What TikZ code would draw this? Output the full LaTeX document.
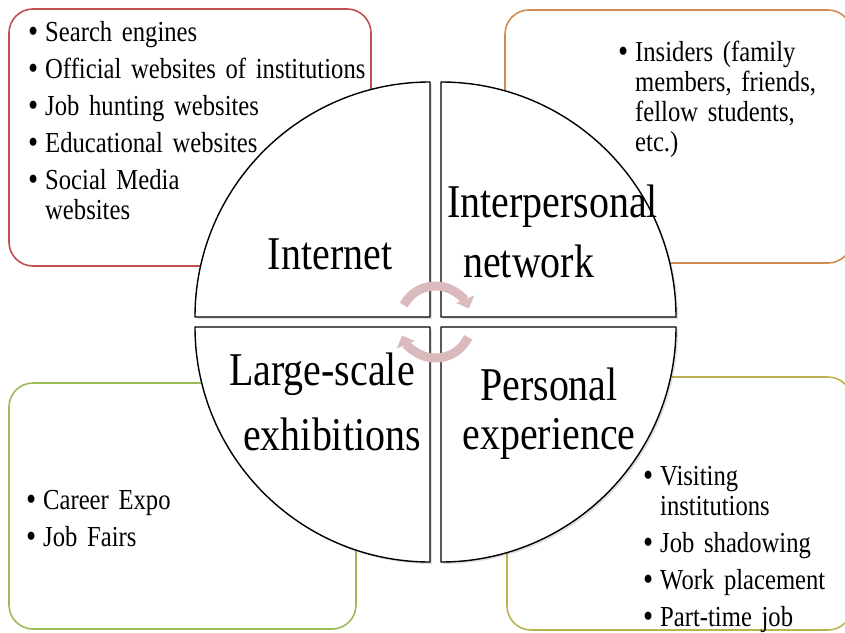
\documentclass[tikz,border=0pt]{standalone}
\usepackage{fontspec}
\setmainfont{Liberation Serif}[FakeStretch=0.85]
\usepackage{enumitem}
\setlist[itemize]{leftmargin=16pt, labelsep=7pt, itemsep=7pt, parsep=0pt, topsep=0pt, partopsep=0pt,
    label={\raisebox{-1.5pt}{\fontsize{34}{34}\selectfont\textbullet}}}
\usetikzlibrary{arrows.meta, shadows}

\definecolor{webred}{RGB}{192,80,77}
\definecolor{netorange}{RGB}{206,140,84}
\definecolor{expogreen}{RGB}{155,187,89}
\definecolor{workolive}{RGB}{190,178,80}
\definecolor{turnpink}{RGB}{218,186,188}

\newcommand{\listfont}{\fontsize{29}{30}\selectfont\spaceskip=4.8pt plus 1pt minus 1pt\relax}

\begin{document}
\begin{tikzpicture}[x=1pt, y=1pt, >=Latex,
    quadrant/.style={draw=black, fill=white, line width=1.4pt, line join=round, drop shadow={opacity=0.25, shadow xshift=2pt, shadow yshift=-2pt}},
    frame/.style={draw=#1, line width=1.6pt, rounded corners=24pt},
    turnarrow/.style={draw=turnpink, line width=9pt, -{Triangle[width=19pt, length=10pt]}}]
    % Define styles for labels and bullet lists
    \tikzstyle{biglabel} = [anchor=base, inner sep=0pt, font=\fontsize{47}{50}\selectfont]
    \tikzstyle{bullets} = [anchor=base west, inner sep=0pt, text width=360pt, align=left, font=\listfont]

    \useasboundingbox (0,0) rectangle (845,-632);
    \clip (0,0) rectangle (845,-632);

    % Outer boxes
    \draw[frame=webred] (9,-9) rectangle (371,-266);
    \draw[frame=netorange] (505,-10) rectangle (852,-263);
    \draw[frame=expogreen] (9,-383) rectangle (356,-629);
    \draw[frame=workolive] (507,-377) rectangle (852,-630);

    % Four quarters of the circle
    \coordinate (hub) at (435.5,-322);
    \path[quadrant] (430,-317) -- (195,-317) arc[start angle=180, end angle=90, radius=235] -- cycle;
    \path[quadrant] (441,-317) -- (441,-82) arc[start angle=90, end angle=0, radius=235] -- cycle;
    \path[quadrant] (430,-327) -- (430,-562) arc[start angle=270, end angle=180, radius=235] -- cycle;
    \path[quadrant] (441,-327) -- (676,-327) arc[start angle=0, end angle=-90, radius=235] -- cycle;

    % Quarter labels
    \node[biglabel] (internet) at (330,-269) {Internet};
    \node[biglabel, anchor=base west] (inter) at (447,-217) {Interpersonal};
    \node[biglabel, anchor=base west] (network) at (463,-277) {network};
    \node[biglabel] (large) at (322,-385) {Large-scale};
    \node[biglabel] (exhib) at (332,-450) {exhibitions};
    \node[biglabel] (personal) at (549,-400) {Personal};
    \node[biglabel] (exper) at (549,-449) {experience};

    % Turning arrows in the middle
    \draw[turnarrow] (hub) ++(152:36) arc[start angle=152, end angle=22, radius=36];
    \draw[turnarrow] (hub) ++(-25:36) arc[start angle=-25, end angle=-158, radius=36];

    % Bullet lists
    \node[bullets] (netlist) at (29,-11) {\begin{itemize}
        \item Search engines
        \item Official websites of institutions
        \item Job hunting websites
        \item Educational websites
        \item Social Media\newline websites
    \end{itemize}};
    \node[bullets] (peoplelist) at (619,-31) {\begin{itemize}
        \item Insiders (family\newline members, friends,\newline fellow students,\newline etc.)
    \end{itemize}};
    \node[bullets] (expolist) at (27,-479) {\begin{itemize}
        \item Career Expo
        \item Job Fairs
    \end{itemize}};
    \node[bullets] (worklist) at (644,-455) {\begin{itemize}
        \item Visiting\newline institutions
        \item Job shadowing
        \item Work placement
        \item Part-time job
    \end{itemize}};
\end{tikzpicture}
\end{document}
